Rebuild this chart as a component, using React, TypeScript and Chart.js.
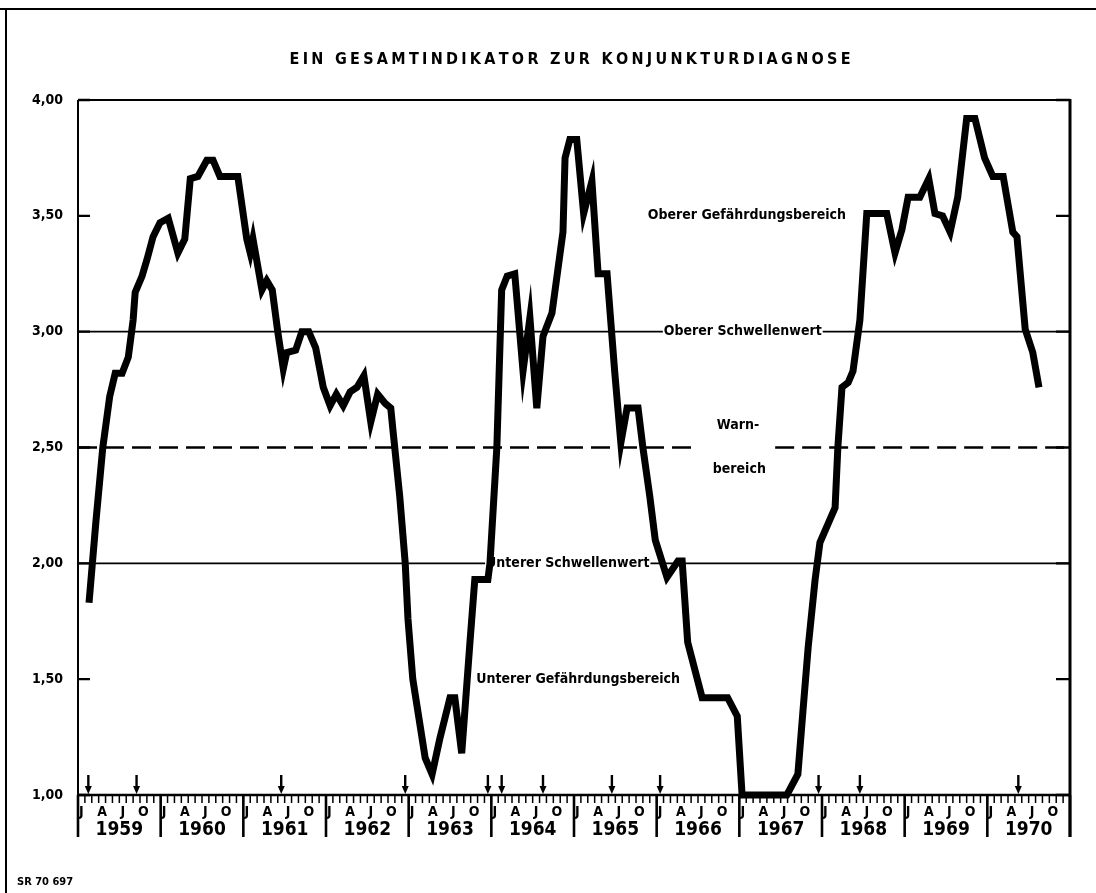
import React, { useEffect, useRef } from "react";
import { Chart, registerables } from "chart.js";

Chart.register(...registerables);

// ---- Data (months counted from January 1959; 0 = start of Jan 1959) ----
const years = ["1959", "1960", "1961", "1962", "1963", "1964", "1965", "1966", "1967", "1968", "1969", "1970"];
const monthLetters = ["J", "A", "J", "O"]; // Jan, Apr, Jul, Oct
const yTickValues = [1, 1.5, 2, 2.5, 3, 3.5, 4];
const yTickLabels = ["1,00", "1,50", "2,00", "2,50", "3,00", "3,50", "4,00"];

const monthPos = [
  1.6, 2.6, 3.6, 4.6, 5.4, 6.4, 7.3, 8.0, 8.3, 9.3, 10.0, 10.9, 11.9, 13.1, 14.5, 15.5, 16.3, 17.4, 18.7, 19.6,
  20.6, 23.2, 24.5, 25.0, 25.4, 26.7, 27.4, 28.2, 29.0, 29.8, 30.3, 31.6, 32.5, 33.5, 34.5, 35.6, 36.6, 37.5, 38.5, 39.5,
  40.5, 41.5, 42.5, 43.5, 44.6, 45.4, 45.7, 46.7, 47.5, 47.9, 48.6, 50.4, 51.4, 52.5, 54.0, 54.7, 55.7, 56.9, 57.6, 59.5,
  59.8, 60.8, 61.5, 62.3, 63.4, 64.6, 65.6, 66.6, 67.5, 68.8, 70.4, 70.7, 71.4, 72.4, 73.4, 74.6, 75.5, 76.8, 77.9, 78.8,
  79.7, 81.3, 82.0, 83.0, 83.8, 85.5, 87.1, 87.7, 88.5, 90.6, 94.3, 95.7, 96.4, 102.9, 104.5, 105.2, 106.0, 107.0, 107.7, 109.9,
  110.3, 110.9, 111.8, 112.5, 113.5, 114.5, 117.4, 118.6, 119.6, 120.5, 122.2, 123.5, 124.4, 125.5, 126.6, 127.7, 129.0, 130.2, 131.6, 132.8,
  134.3, 135.7, 136.3, 137.5, 138.6, 139.5,
];
const indicator = [
  1.83, 2.18, 2.5, 2.72, 2.82, 2.82, 2.89, 3.05, 3.17, 3.24, 3.31, 3.41, 3.47, 3.49, 3.34, 3.4, 3.66, 3.67, 3.74, 3.74,
  3.67, 3.67, 3.4, 3.34, 3.4, 3.18, 3.22, 3.18, 3.0, 2.84, 2.91, 2.92, 3.0, 3.0, 2.93, 2.76, 2.68, 2.73, 2.68, 2.74,
  2.76, 2.81, 2.61, 2.73, 2.69, 2.67, 2.58, 2.29, 2.0, 1.76, 1.5, 1.16, 1.09, 1.24, 1.42, 1.42, 1.18, 1.66, 1.93, 1.93,
  2.0, 2.5, 3.18, 3.24, 3.25, 2.83, 3.06, 2.67, 2.98, 3.08, 3.43, 3.75, 3.83, 3.83, 3.51, 3.65, 3.25, 3.25, 2.83, 2.52,
  2.67, 2.67, 2.5, 2.29, 2.1, 1.94, 2.01, 2.01, 1.66, 1.42, 1.42, 1.34, 1.0, 1.0, 1.09, 1.35, 1.64, 1.93, 2.09, 2.24,
  2.5, 2.76, 2.78, 2.83, 3.05, 3.51, 3.51, 3.34, 3.44, 3.58, 3.58, 3.66, 3.51, 3.5, 3.43, 3.58, 3.92, 3.92, 3.75, 3.67,
  3.67, 3.43, 3.41, 3.01, 2.91, 2.76,
];

// turning-point signal arrows (month positions)
const signalMonths = [1.5, 8.5, 29.5, 47.5, 59.5, 61.5, 67.5, 77.5, 84.5, 107.5, 113.5, 136.5];

const upperThreshold = 3.0;
const lowerThreshold = 2.0;
const warnLine = 2.5;

const FONT = '"Liberation Sans Narrow", "DejaVu Sans Condensed", "Arial Narrow", sans-serif';

const drawPlugin = {
  id: "konjunkturDraw",
  beforeDatasetsDraw(chart: any) {
    const { ctx, chartArea: ca, scales } = chart;
    const x = scales.x;
    const y = scales.y;
    ctx.save();
    ctx.strokeStyle = "#000";
    ctx.fillStyle = "#000";
    ctx.textBaseline = "middle";

    // threshold lines with inline labels
    const gapLine = (val: number, label: string, m: number) => {
      const py = y.getPixelForValue(val);
      const cx = x.getPixelForValue(m);
      ctx.font = `bold 14px ${FONT}`;
      const w = ctx.measureText(label).width;
      ctx.lineWidth = 1.6;
      ctx.setLineDash([]);
      ctx.beginPath();
      ctx.moveTo(ca.left, py);
      ctx.lineTo(cx - w / 2 - 1, py);
      ctx.moveTo(cx + w / 2 + 1, py);
      ctx.lineTo(ca.right, py);
      ctx.stroke();
      ctx.textAlign = "center";
      ctx.fillText(label, cx, py);
    };
    gapLine(upperThreshold, "Oberer Schwellenwert", 96.5);
    gapLine(lowerThreshold, "Unterer Schwellenwert", 71.1);

    // dashed warn line with gap
    const wy = y.getPixelForValue(warnLine);
    ctx.lineWidth = 2.6;
    ctx.setLineDash([19, 8]);
    ctx.beginPath();
    ctx.moveTo(ca.left, wy);
    ctx.lineTo(x.getPixelForValue(90.0), wy);
    ctx.stroke();
    ctx.beginPath();
    ctx.moveTo(x.getPixelForValue(101.2), wy);
    ctx.lineTo(ca.right, wy);
    ctx.stroke();
    ctx.setLineDash([]);

    ctx.font = `bold 14px ${FONT}`;
    ctx.textAlign = "center";
    ctx.fillText("Warn-", x.getPixelForValue(95.8), y.getPixelForValue(2.595));
    ctx.fillText("bereich", x.getPixelForValue(96.0), y.getPixelForValue(2.405));
    ctx.fillText("Oberer Gefährdungsbereich", x.getPixelForValue(97.1), y.getPixelForValue(3.5));
    ctx.fillText("Unterer Gefährdungsbereich", x.getPixelForValue(72.6), y.getPixelForValue(1.5));
    ctx.restore();
  },
  afterDraw(chart: any) {
    const { ctx, chartArea: ca, scales } = chart;
    const x = scales.x;
    const y = scales.y;
    ctx.save();
    ctx.strokeStyle = "#000";
    ctx.fillStyle = "#000";
    const yearBottom = ca.bottom + 42;

    // frame of plot
    ctx.lineWidth = 2;
    ctx.beginPath();
    ctx.moveTo(ca.left, ca.top);
    ctx.lineTo(ca.right, ca.top);
    ctx.stroke();
    ctx.lineWidth = 2;
    ctx.beginPath();
    ctx.moveTo(ca.left, ca.top);
    ctx.lineTo(ca.left, yearBottom);
    ctx.stroke();
    ctx.lineWidth = 3;
    ctx.beginPath();
    ctx.moveTo(ca.right, ca.top - 1);
    ctx.lineTo(ca.right, yearBottom);
    ctx.stroke();
    ctx.lineWidth = 2.6;
    ctx.beginPath();
    ctx.moveTo(ca.left, ca.bottom);
    ctx.lineTo(ca.right, ca.bottom);
    ctx.stroke();

    // y ticks (inward, both sides) and labels
    ctx.lineWidth = 2.4;
    ctx.font = `bold 14px ${FONT}`;
    ctx.textAlign = "right";
    ctx.textBaseline = "middle";
    yTickValues.forEach((v, i) => {
      const py = y.getPixelForValue(v);
      ctx.beginPath();
      ctx.moveTo(ca.left, py);
      ctx.lineTo(ca.left + 12, py);
      ctx.moveTo(ca.right - 14, py);
      ctx.lineTo(ca.right, py);
      ctx.stroke();
      ctx.fillText(yTickLabels[i], 63, py);
    });

    // month ticks
    ctx.lineWidth = 1.5;
    for (let m = 0; m <= years.length * 12; m++) {
      const px = x.getPixelForValue(m);
      ctx.beginPath();
      ctx.moveTo(px, ca.bottom);
      ctx.lineTo(px, ca.bottom + 8);
      ctx.stroke();
    }
    // year separators
    ctx.lineWidth = 2.6;
    for (let k = 0; k <= years.length; k++) {
      const px = x.getPixelForValue(k * 12);
      ctx.beginPath();
      ctx.moveTo(px, ca.bottom);
      ctx.lineTo(px, yearBottom);
      ctx.stroke();
    }
    // month letters and year labels
    ctx.textAlign = "center";
    ctx.textBaseline = "middle";
    years.forEach((yr, k) => {
      ctx.font = `bold 14px ${FONT}`;
      monthLetters.forEach((L, j) => {
        ctx.fillText(L, x.getPixelForValue(k * 12 + j * 3 + 0.5), ca.bottom + 17);
      });
      ctx.font = `bold 19px ${FONT}`;
      ctx.fillText(yr, x.getPixelForValue(k * 12 + 6), ca.bottom + 35);
    });

    // signal arrows
    signalMonths.forEach((m) => {
      const px = x.getPixelForValue(m);
      ctx.lineWidth = 2.4;
      ctx.beginPath();
      ctx.moveTo(px, ca.bottom - 20);
      ctx.lineTo(px, ca.bottom - 6);
      ctx.stroke();
      ctx.beginPath();
      ctx.moveTo(px - 3.5, ca.bottom - 9);
      ctx.lineTo(px + 3.5, ca.bottom - 9);
      ctx.lineTo(px, ca.bottom - 1);
      ctx.closePath();
      ctx.fill();
    });

    // title
    const title = "EIN GESAMTINDIKATOR ZUR KONJUNKTURDIAGNOSE";
    ctx.font = `bold 16px ${FONT}`;
    const chars = title.split("");
    const widths = chars.map((c) => ctx.measureText(c).width);
    const raw = widths.reduce((a, b) => a + b, 0);
    const target = 561;
    const sp = (target - raw) / (chars.length - 1);
    let tx = (ca.left + ca.right) / 2 - 4 - target / 2;
    ctx.textAlign = "left";
    chars.forEach((c, i) => {
      ctx.fillText(c, tx, 60);
      tx += widths[i] + sp;
    });

    // footer
    ctx.font = `bold 11px ${FONT}`;
    ctx.fillText("SR 70 697", 17, 882);

    // outer frame
    ctx.lineWidth = 2;
    ctx.beginPath();
    ctx.moveTo(0, 9);
    ctx.lineTo(1096, 9);
    ctx.stroke();
    ctx.beginPath();
    ctx.moveTo(6, 9);
    ctx.lineTo(6, 893);
    ctx.stroke();
    ctx.restore();
  },
};

export default function App() {
  const ref = useRef<HTMLCanvasElement>(null);
  useEffect(() => {
    if (!ref.current) return;
    const chart = new Chart(ref.current, {
      type: "line",
      data: {
        datasets: [
          {
            data: monthPos.map((m, i) => ({ x: m, y: indicator[i] })),
            borderColor: "#000",
            borderWidth: 7,
            pointRadius: 0,
            tension: 0,
            clip: false as any,
            borderJoinStyle: "miter",
            borderCapStyle: "butt",
          } as any,
        ],
      },
      options: {
        animation: false,
        responsive: false,
        devicePixelRatio: 1,
        events: [],
        layout: { padding: { left: 78, right: 26, top: 100, bottom: 98 } },
        plugins: { legend: { display: false }, tooltip: { enabled: false }, title: { display: false } },
        scales: {
          x: { type: "linear", min: 0, max: years.length * 12, display: false },
          y: { type: "linear", min: 1, max: 4, display: false },
        },
      },
      plugins: [drawPlugin],
    });
    return () => chart.destroy();
  }, []);
  return (
    <div style={{ position: "absolute", left: 0, top: 0, width: 1096, height: 893, background: "#fff" }}>
      <canvas ref={ref} width={1096} height={893} style={{ display: "block", width: 1096, height: 893 }} />
    </div>
  );
}
